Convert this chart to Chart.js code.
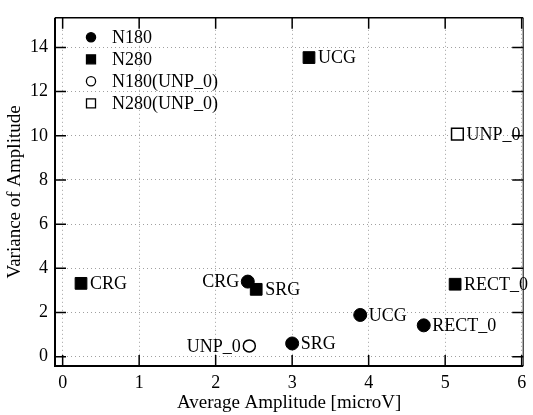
<!DOCTYPE html>
<html><head><meta charset="utf-8">
<script src="https://cdn.jsdelivr.net/npm/chart.js@4/dist/chart.umd.min.js"></script>
<style>html,body{margin:0;padding:0;background:#fff}</style>
</head><body>
<canvas id="c" width="533" height="415"></canvas>
<script>
const xTicks = [0, 1, 2, 3, 4, 5, 6];
const yTicks = [0, 2, 4, 6, 8, 10, 12, 14];
const seriesNames = ['N180', 'N280', 'N180(UNP_0)', 'N280(UNP_0)'];
const n180X = [2.42, 3.0, 3.89, 4.72];
const n180Y = [3.4, 0.6, 1.89, 1.42];
const n180Labels = ['CRG', 'SRG', 'UCG', 'RECT_0'];
const n280X = [0.24, 2.53, 3.22, 5.13];
const n280Y = [3.32, 3.05, 13.54, 3.28];
const n280Labels = ['CRG', 'SRG', 'UCG', 'RECT_0'];
const n180uX = [2.44];
const n180uY = [0.49];
const n180uLabels = ['UNP_0'];
const n280uX = [5.16];
const n280uY = [10.07];
const n280uLabels = ['UNP_0'];

const FONT = '"Liberation Serif", "DejaVu Serif", serif';
const pts = (xs, ys) => xs.map((x, i) => ({x: x, y: ys[i]}));

const datasets = [
  {label: seriesNames[0], data: pts(n180X, n180Y), pointLabels: n180Labels, labelLeft: [true,false,false,false],
   pointStyle: 'circle', pointRadius: 6.5, backgroundColor: '#000', borderColor: '#000', borderWidth: 1, filled: true},
  {label: seriesNames[1], data: pts(n280X, n280Y), pointLabels: n280Labels, labelLeft: [false,false,false,false],
   pointStyle: 'rect', pointRadius: 8.3, backgroundColor: '#000', borderColor: '#000', borderWidth: 1, filled: true},
  {label: seriesNames[2], data: pts(n180uX, n180uY), pointLabels: n180uLabels, labelLeft: [true],
   pointStyle: 'circle', pointRadius: 6, backgroundColor: '#fff', borderColor: '#000', borderWidth: 1.5, filled: false},
  {label: seriesNames[3], data: pts(n280uX, n280uY), pointLabels: n280uLabels, labelLeft: [false],
   pointStyle: 'rect', pointRadius: 8.3, backgroundColor: '#fff', borderColor: '#000', borderWidth: 1.5, filled: false}
];
datasets.forEach(d => { d.pointHoverRadius = d.pointRadius; d.showLine = false; });

const deco = {
  id: 'deco',
  afterDraw(chart) {
    const ctx = chart.ctx, a = chart.chartArea, xs = chart.scales.x, ys = chart.scales.y;
    ctx.save();
    ctx.strokeStyle = '#000';
    ctx.lineWidth = 2;
    ctx.beginPath();
    ctx.moveTo(a.left, a.top); ctx.lineTo(a.left, a.bottom); ctx.lineTo(a.right, a.bottom);
    ctx.stroke();
    ctx.lineWidth = 1.5;
    ctx.beginPath(); ctx.moveTo(a.left, a.top); ctx.lineTo(a.right, a.top); ctx.stroke();
    ctx.lineWidth = 1;
    ctx.beginPath(); ctx.moveTo(a.right, a.top); ctx.lineTo(a.right, a.bottom); ctx.stroke();
    ctx.lineWidth = 1.5;
    const tl = 11;
    xs.ticks.forEach(t => {
      const px = xs.getPixelForValue(t.value);
      ctx.beginPath();
      ctx.moveTo(px, a.bottom); ctx.lineTo(px, a.bottom - tl);
      ctx.moveTo(px, a.top); ctx.lineTo(px, a.top + tl);
      ctx.stroke();
    });
    ys.ticks.forEach(t => {
      const py = ys.getPixelForValue(t.value);
      ctx.beginPath();
      ctx.moveTo(a.left, py); ctx.lineTo(a.left + tl, py);
      ctx.moveTo(a.right, py); ctx.lineTo(a.right - tl, py);
      ctx.stroke();
    });
    // point labels
    ctx.fillStyle = '#000';
    ctx.font = '18px ' + FONT;
    ctx.textBaseline = 'middle';
    chart.data.datasets.forEach((ds, i) => {
      const meta = chart.getDatasetMeta(i);
      meta.data.forEach((el, j) => {
        const left = ds.labelLeft[j];
        ctx.textAlign = left ? 'right' : 'left';
        const off = ds.pointStyle === 'rect' ? 9 : 8.5;
        ctx.fillText(ds.pointLabels[j], left ? el.x - off : el.x + off, el.y + 1);
      });
    });
    // legend
    const lx = a.left + 36, ly0 = a.top + 19.5, dy = 22;
    chart.data.datasets.forEach((ds, i) => {
      const y = ly0 + i * dy;
      ctx.lineWidth = 1.3;
      ctx.strokeStyle = '#000';
      ctx.fillStyle = ds.filled ? '#000' : '#fff';
      ctx.beginPath();
      if (ds.pointStyle === 'circle') ctx.arc(lx, y, 4.6, 0, Math.PI * 2);
      else ctx.rect(lx - 4.5, y - 4.5, 9, 9);
      ctx.fill(); ctx.stroke();
      ctx.fillStyle = '#000';
      ctx.textAlign = 'left';
      ctx.font = '18px ' + FONT;
      ctx.fillText(ds.label, lx + 21, y + 1);
    });
    ctx.restore();
  }
};

new Chart(document.getElementById('c'), {
  type: 'scatter',
  data: {datasets: datasets},
  options: {
    responsive: false,
    animation: false,
    devicePixelRatio: 1,
    layout: {padding: {left: 0, right: 5, top: 13, bottom: 0}},
    plugins: {legend: {display: false}, tooltip: {enabled: false}},
    scales: {
      x: {
        type: 'linear', min: -0.1, max: 6.02,
        afterBuildTicks: s => { s.ticks = xTicks.map(v => ({value: v})); },
        afterFit: s => { s.height = 49; },
        grid: {color: '#a0a0a0', lineWidth: 1, drawTicks: false},
        border: {display: false, dash: [1, 3]},
        ticks: {color: '#000', font: {family: FONT, size: 18}, padding: 6, maxRotation: 0},
        title: {display: true, text: 'Average Amplitude [microV]', color: '#000', font: {family: FONT, size: 19}, padding: {top: 0, bottom: 1}}
      },
      y: {
        type: 'linear', min: -0.42, max: 15.34,
        afterBuildTicks: s => { s.ticks = yTicks.map(v => ({value: v})); },
        afterFit: s => { s.width = 55; },
        grid: {color: '#a0a0a0', lineWidth: 1, drawTicks: false},
        border: {display: false, dash: [1, 3]},
        ticks: {color: '#000', font: {family: FONT, size: 18}, padding: 7},
        title: {display: true, text: 'Variance of Amplitude', color: '#000', font: {family: FONT, size: 19}, padding: {top: 4, bottom: 0}}
      }
    }
  },
  plugins: [deco]
});
</script>
</body></html>
